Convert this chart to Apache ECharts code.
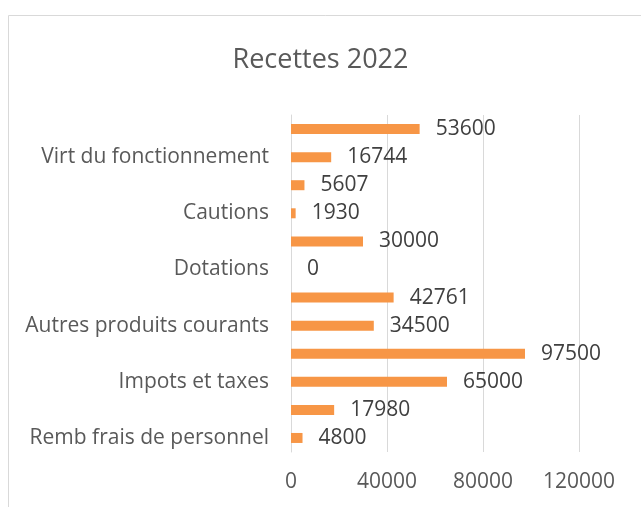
<!DOCTYPE html>
<html>
<head>
<meta charset="utf-8">
<script src="https://cdn.jsdelivr.net/npm/echarts@6/dist/echarts.min.js"></script>
<style>
  html, body { margin: 0; padding: 0; background: #fff; }
  #chart { width: 641px; height: 507px; }
</style>
</head>
<body>
<div id="chart"></div>
<script>
// bottom to top, only every other label is shown (as in the original)
const categories = [
  'Remb frais de personnel', '',
  'Impots et taxes', '',
  'Autres produits courants', '',
  'Dotations', '',
  'Cautions', '',
  'Virt du fonctionnement', ''
];
const values = [4800, 17980, 65000, 97500, 34500, 42761, 0, 30000, 1930, 5607, 16744, 53600];
const xTicks = [0, 40000, 80000, 120000];

const chart = echarts.init(document.getElementById('chart'));
const font = 'Open Sans, Liberation Sans, sans-serif';

chart.setOption({
  animation: false,
  textStyle: { fontFamily: font },
  title: {
    text: 'Recettes 2022',
    left: 'center',
    top: 42,
    textStyle: { fontSize: 27, fontWeight: 'normal', color: '#595959', fontFamily: font }
  },
  graphic: [{
    type: 'rect',
    shape: { x: 8.5, y: 15.5, width: 700, height: 600 },
    style: { fill: 'none', stroke: '#d9d9d9', lineWidth: 1 },
    silent: true
  }],
  grid: { left: 291, right: 62, top: 115, bottom: 55, containLabel: false },
  xAxis: {
    type: 'value',
    min: xTicks[0],
    max: xTicks[xTicks.length - 1],
    interval: 40000,
    axisLine: { show: false },
    axisTick: { show: false },
    splitLine: { lineStyle: { color: '#d9d9d9', width: 1 } },
    axisLabel: { color: '#595959', fontSize: 21, margin: 20, formatter: v => String(v) }
  },
  yAxis: {
    type: 'category',
    data: categories,
    axisLine: { show: true, lineStyle: { color: '#d9d9d9' } },
    axisTick: { show: false },
    axisLabel: { color: '#595959', fontSize: 21, margin: 22, interval: 0 }
  },
  series: [{
    type: 'bar',
    data: values,
    barWidth: 10,
    itemStyle: { color: '#f79646' },
    label: {
      show: true,
      position: 'right',
      distance: 16,
      color: '#404040',
      fontSize: 21
    }
  }]
});
</script>
</body>
</html>
